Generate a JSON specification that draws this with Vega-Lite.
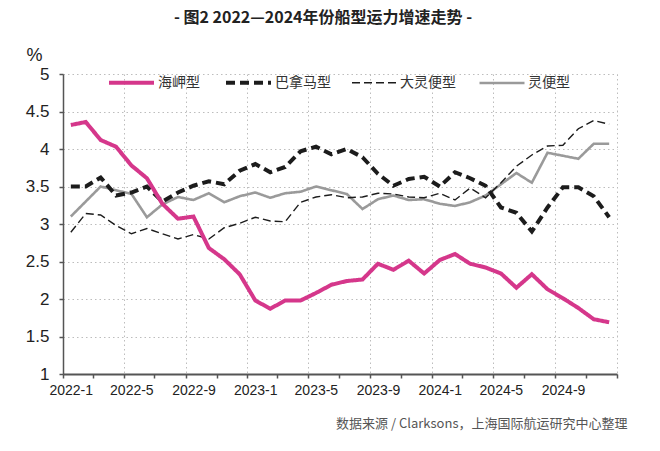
{
  "$schema": "https://vega.github.io/schema/vega-lite/v6.json",
  "width": 554,
  "height": 300,
  "autosize": {"type": "none"},
  "padding": {"left": 63, "top": 74, "right": 43, "bottom": 77},
  "background": "white",
  "title": {
    "text": "- 图2 2022—2024年份船型运力增速走势 -",
    "font": "Noto Sans CJK SC",
    "fontSize": 16,
    "fontWeight": "bold",
    "color": "#222222",
    "anchor": "middle",
    "dx": -17,
    "offset": 20
  },
  "data": {
    "values": [
      {"m": "2022-01-01", "海岬型": 4.32, "巴拿马型": 3.50, "大灵便型": 2.89, "灵便型": 3.10},
      {"m": "2022-02-01", "海岬型": 4.36, "巴拿马型": 3.50, "大灵便型": 3.14, "灵便型": 3.30},
      {"m": "2022-03-01", "海岬型": 4.12, "巴拿马型": 3.62, "大灵便型": 3.12, "灵便型": 3.50},
      {"m": "2022-04-01", "海岬型": 4.03, "巴拿马型": 3.38, "大灵便型": 2.98, "灵便型": 3.45},
      {"m": "2022-05-01", "海岬型": 3.78, "巴拿马型": 3.42, "大灵便型": 2.87, "灵便型": 3.40},
      {"m": "2022-06-01", "海岬型": 3.61, "巴拿马型": 3.50, "大灵便型": 2.94, "灵便型": 3.09},
      {"m": "2022-07-01", "海岬型": 3.27, "巴拿马型": 3.30, "大灵便型": 2.87, "灵便型": 3.26},
      {"m": "2022-08-01", "海岬型": 3.07, "巴拿马型": 3.42, "大灵便型": 2.80, "灵便型": 3.36},
      {"m": "2022-09-01", "海岬型": 3.10, "巴拿马型": 3.51, "大灵便型": 2.86, "灵便型": 3.32},
      {"m": "2022-10-01", "海岬型": 2.68, "巴拿马型": 3.57, "大灵便型": 2.80, "灵便型": 3.41},
      {"m": "2022-11-01", "海岬型": 2.53, "巴拿马型": 3.53, "大灵便型": 2.95, "灵便型": 3.29},
      {"m": "2022-12-01", "海岬型": 2.33, "巴拿马型": 3.71, "大灵便型": 3.01, "灵便型": 3.37},
      {"m": "2023-01-01", "海岬型": 1.98, "巴拿马型": 3.80, "大灵便型": 3.09, "灵便型": 3.42},
      {"m": "2023-02-01", "海岬型": 1.87, "巴拿马型": 3.69, "大灵便型": 3.04, "灵便型": 3.35},
      {"m": "2023-03-01", "海岬型": 1.98, "巴拿马型": 3.76, "大灵便型": 3.03, "灵便型": 3.41},
      {"m": "2023-04-01", "海岬型": 1.98, "巴拿马型": 3.97, "大灵便型": 3.29, "灵便型": 3.43},
      {"m": "2023-05-01", "海岬型": 2.08, "巴拿马型": 4.03, "大灵便型": 3.36, "灵便型": 3.50},
      {"m": "2023-06-01", "海岬型": 2.19, "巴拿马型": 3.93, "大灵便型": 3.39, "灵便型": 3.45},
      {"m": "2023-07-01", "海岬型": 2.24, "巴拿马型": 4.00, "大灵便型": 3.35, "灵便型": 3.40},
      {"m": "2023-08-01", "海岬型": 2.26, "巴拿马型": 3.89, "大灵便型": 3.36, "灵便型": 3.20},
      {"m": "2023-09-01", "海岬型": 2.47, "巴拿马型": 3.67, "大灵便型": 3.41, "灵便型": 3.33},
      {"m": "2023-10-01", "海岬型": 2.39, "巴拿马型": 3.51, "大灵便型": 3.40, "灵便型": 3.38},
      {"m": "2023-11-01", "海岬型": 2.51, "巴拿马型": 3.60, "大灵便型": 3.36, "灵便型": 3.32},
      {"m": "2023-12-01", "海岬型": 2.34, "巴拿马型": 3.63, "大灵便型": 3.35, "灵便型": 3.33},
      {"m": "2024-01-01", "海岬型": 2.52, "巴拿马型": 3.50, "大灵便型": 3.41, "灵便型": 3.27},
      {"m": "2024-02-01", "海岬型": 2.60, "巴拿马型": 3.69, "大灵便型": 3.32, "灵便型": 3.24},
      {"m": "2024-03-01", "海岬型": 2.47, "巴拿马型": 3.61, "大灵便型": 3.48, "灵便型": 3.29},
      {"m": "2024-04-01", "海岬型": 2.42, "巴拿马型": 3.51, "大灵便型": 3.35, "灵便型": 3.38},
      {"m": "2024-05-01", "海岬型": 2.34, "巴拿马型": 3.22, "大灵便型": 3.55, "灵便型": 3.53},
      {"m": "2024-06-01", "海岬型": 2.15, "巴拿马型": 3.15, "大灵便型": 3.77, "灵便型": 3.68},
      {"m": "2024-07-01", "海岬型": 2.33, "巴拿马型": 2.90, "大灵便型": 3.92, "灵便型": 3.55},
      {"m": "2024-08-01", "海岬型": 2.13, "巴拿马型": 3.22, "大灵便型": 4.04, "灵便型": 3.95},
      {"m": "2024-09-01", "海岬型": 2.01, "巴拿马型": 3.49, "大灵便型": 4.05, "灵便型": 3.91},
      {"m": "2024-10-01", "海岬型": 1.88, "巴拿马型": 3.49, "大灵便型": 4.27, "灵便型": 3.87},
      {"m": "2024-11-01", "海岬型": 1.73, "巴拿马型": 3.37, "大灵便型": 4.38, "灵便型": 4.07},
      {"m": "2024-12-01", "海岬型": 1.69, "巴拿马型": 3.09, "大灵便型": 4.33, "灵便型": 4.07}
    ]
  },
  "transform": [
    {"fold": ["灵便型", "大灵便型", "巴拿马型", "海岬型"], "as": ["type", "value"]}
  ],
  "mark": {"type": "line", "strokeCap": "butt", "strokeJoin": "miter"},
  "encoding": {
    "x": {
      "field": "m",
      "type": "temporal",
      "timeUnit": "utcyearmonth",
      "bandPosition": 0.5,
      "scale": {
        "type": "utc",
        "nice": false,
        "domain": [
          {"year": 2022, "month": 1, "date": 1, "utc": true},
          {"year": 2025, "month": 1, "date": 1, "utc": true}
        ]
      },
      "axis": {
        "tickCount": {"interval": "month", "step": 2},
        "labelExpr": "utcmonth(datum.value) % 4 == 0 && utcyear(datum.value) < 2025 ? utcyear(datum.value) + '-' + (utcmonth(datum.value) + 1) : ''",
        "labelOffset": 7.7,
        "labelFlush": false,
        "labelOverlap": false,
        "labelFont": "Liberation Sans",
        "labelFontSize": 14,
        "labelColor": "#222222",
        "labelPadding": 5,
        "grid": true,
        "gridOpacity": {"condition": {"test": "utcmonth(datum.value) % 4 == 0", "value": 1}, "value": 0},
        "gridDash": [1.5, 3],
        "gridColor": "#bdbdbd",
        "gridWidth": 1,
        "domainColor": "#555555",
        "domainWidth": 2,
        "tickColor": "#555555",
        "tickSize": 4,
        "tickWidth": 1.5,
        "title": "数据来源 / Clarksons，上海国际航运研究中心整理",
        "titleFont": "Noto Sans CJK SC",
        "titleFontSize": 13,
        "titleFontWeight": "normal",
        "titleColor": "#555555",
        "titleAlign": "right",
        "titleBaseline": "middle",
        "titleX": 564,
        "titleY": 49
      }
    },
    "y": {
      "field": "value",
      "type": "quantitative",
      "scale": {"domain": [1, 5], "nice": false, "zero": false},
      "axis": {
        "values": [1, 1.5, 2, 2.5, 3, 3.5, 4, 4.5, 5],
        "format": "~g",
        "labelFont": "Liberation Sans",
        "labelFontSize": 17,
        "labelColor": "#222222",
        "labelPadding": 10,
        "grid": true,
        "gridDash": [1.5, 3],
        "gridColor": "#bdbdbd",
        "gridWidth": 1,
        "domainColor": "#555555",
        "domainWidth": 1.5,
        "tickColor": "#555555",
        "tickSize": 4,
        "tickWidth": 1.5,
        "title": "%",
        "titleAngle": 0,
        "titleFont": "Liberation Sans",
        "titleFontSize": 18,
        "titleFontWeight": "normal",
        "titleColor": "#222222",
        "titleAlign": "center",
        "titleBaseline": "middle",
        "titleX": -29,
        "titleY": -19
      }
    },
    "color": {
      "field": "type",
      "type": "nominal",
      "scale": {
        "domain": ["海岬型", "巴拿马型", "大灵便型", "灵便型"],
        "range": ["#d5378b", "#1c1c1c", "#1c1c1c", "#9a9a9a"]
      }
    },
    "strokeDash": {
      "field": "type",
      "type": "nominal",
      "scale": {
        "domain": ["海岬型", "巴拿马型", "大灵便型", "灵便型"],
        "range": [[1, 0], [9, 5], [8, 4], [1, 0]]
      }
    },
    "strokeWidth": {
      "field": "type",
      "type": "nominal",
      "scale": {
        "type": "ordinal",
        "domain": ["海岬型", "巴拿马型", "大灵便型", "灵便型"],
        "range": [4, 4, 1.4, 2.6]
      }
    }
  },
  "config": {
    "font": "Noto Sans CJK SC",
    "view": {"stroke": null},
    "legend": {
      "orient": "none",
      "legendX": 44,
      "legendY": -16,
      "direction": "horizontal",
      "title": null,
      "symbolType": "stroke",
      "symbolSize": 2025,
      "labelFont": "Noto Sans CJK SC",
      "labelFontSize": 14,
      "labelColor": "#333333",
      "labelOffset": 2,
      "columnPadding": 18,
      "padding": 0
    }
  }
}
